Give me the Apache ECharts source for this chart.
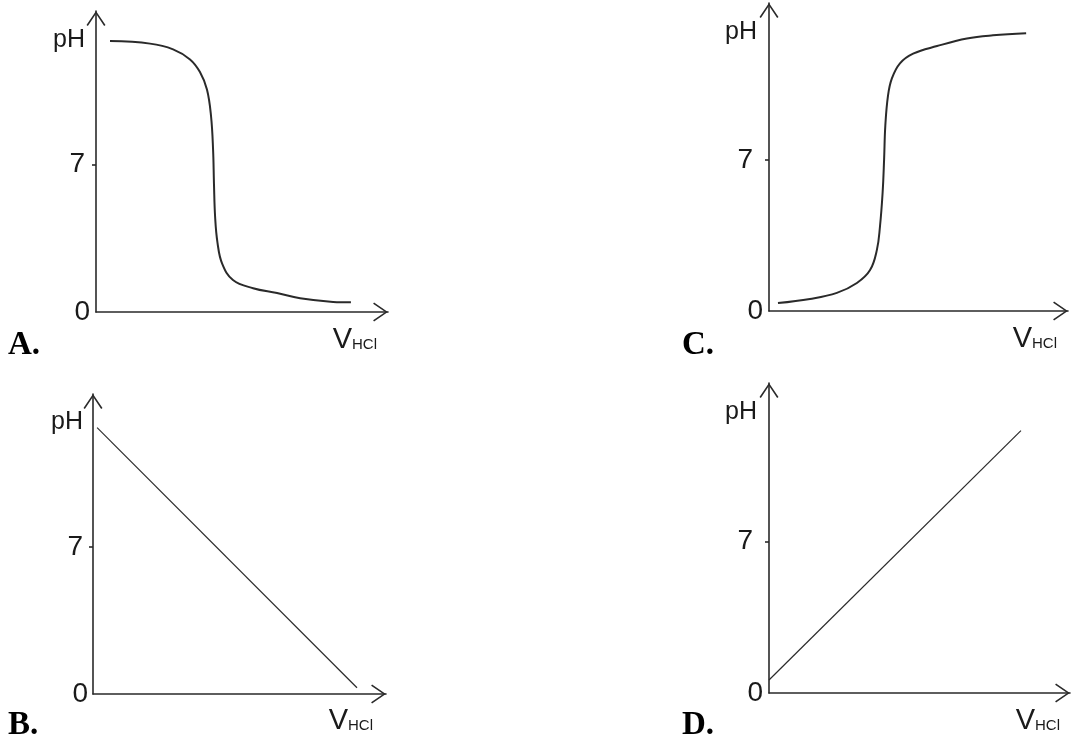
<!DOCTYPE html>
<html>
<head>
<meta charset="utf-8">
<title>pH - VHCl</title>
<script src="https://cdn.jsdelivr.net/npm/echarts@6/dist/echarts.min.js"></script>
<style>
  html, body { margin: 0; padding: 0; background: #fff; }
  #main { width: 1071px; height: 740px; }
</style>
</head>
<body>
<div id="main"></div>
<script>
// 数据 (x: VHCl 轴长度的百分比, y: pH)
var panelNames = ['A.', 'B.', 'C.', 'D.'];
var yLabelValues = [0, 7];
var yTickValues = [7];

var curveAx = [4.8, 18.5, 26.4, 32.2, 35.6, 38.0, 39.4, 40.1, 40.4, 40.8, 41.6, 43.2, 46.9, 53.8, 62.0, 69.9, 81.2, 87.3];
var curveAy = [12.87, 12.75, 12.48, 12.0, 11.4, 10.57, 9.3, 7.7, 6.1, 4.5, 3.3, 2.3, 1.52, 1.13, 0.9, 0.65, 0.48, 0.46];

var lineBx = [1.4, 90.1];
var lineBy = [12.7, 0.3];

var curveCx = [3.0, 13.7, 22.7, 29.4, 33.8, 36.1, 37.1, 38.0, 38.5, 38.9, 39.8, 41.1, 43.8, 48.2, 56.2, 66.2, 74.9, 86.0];
var curveCy = [0.37, 0.56, 0.84, 1.3, 1.9, 2.85, 3.9, 5.5, 7.05, 8.6, 10.0, 10.8, 11.5, 11.95, 12.3, 12.65, 12.8, 12.9];

var lineDx = [0, 83.7];
var lineDy = [0.6, 12.1];

function zip(xs, ys) {
  return xs.map(function (x, i) { return [x, ys[i]]; });
}

var textColor = '#1a1a1a';
var lineColor = '#2a2a2a';
var sans = 'Liberation Sans, Arial, sans-serif';
// 箭头 (开口的 V 形)
var arrow = 'path://M9,0 L18,13.1 L16.7,14 L9,2.5 L1.3,14 L0,13.1 Z';

// 每个小图的位置
var panels = [
  { grid: { left: 96, top: 11, width: 292, height: 301 }, title: [8, 329], pad7: 5, pad0: 6, phGap: -29, phPad: 11, vGap: -11, vPad: 13 },
  { grid: { left: 93, top: 394, width: 293, height: 300 }, title: [8, 709], pad7: 4, pad0: 5, phGap: -28, phPad: 10, vGap: -13, vPad: 12 },
  { grid: { left: 769, top: 3, width: 299, height: 308 }, title: [682, 329], pad7: 10, pad0: 6, phGap: -29, phPad: 12, vGap: -11, vPad: 13 },
  { grid: { left: 769, top: 383, width: 301, height: 310 }, title: [682, 709], pad7: 10, pad0: 6, phGap: -29, phPad: 12, vGap: -10, vPad: 13 }
];

var seriesData = [zip(curveAx, curveAy), zip(lineBx, lineBy), zip(curveCx, curveCy), zip(lineDx, lineDy)];
var smoothFlags = [0.4, false, 0.4, false];
var lineWidths = [2, 1.2, 2, 1.2];

var axisLineStyle = {
  show: true,
  symbol: ['none', arrow],
  symbolSize: [19, 15],
  symbolOffset: [0, -7.5],
  lineStyle: { color: lineColor, width: 1.6 }
};

var option = {
  backgroundColor: '#fff',
  animation: false,
  title: [],
  grid: [],
  xAxis: [],
  yAxis: [],
  series: []
};

panels.forEach(function (p, i) {
  option.title.push({
    text: panelNames[i],
    left: p.title[0],
    top: p.title[1],
    padding: 0,
    textStyle: { fontFamily: 'Liberation Serif, Times New Roman, serif', fontWeight: 'bold', fontSize: 33, color: '#000' }
  });
  option.grid.push(p.grid);
  option.xAxis.push({
    type: 'value',
    gridIndex: i,
    min: 0,
    max: 100,
    name: '{v|V}{h|HCl}',
    nameLocation: 'end',
    nameGap: p.vGap,
    nameTextStyle: {
      align: 'right',
      verticalAlign: 'top',
      padding: [p.vPad, 0, 0, 0],
      rich: {
        v: { fontFamily: sans, fontSize: 29, lineHeight: 29, color: textColor },
        h: { fontFamily: sans, fontSize: 15, lineHeight: 15, color: textColor, verticalAlign: 'bottom', padding: [0, 0, 2, 0] }
      }
    },
    axisLine: axisLineStyle,
    axisTick: { show: false },
    axisLabel: { show: false },
    splitLine: { show: false }
  });
  option.yAxis.push({
    type: 'value',
    gridIndex: i,
    min: 0,
    max: 14.3,
    interval: 7,
    name: 'pH',
    nameLocation: 'end',
    nameGap: p.phGap,
    nameTextStyle: {
      fontFamily: sans, fontSize: 25, color: textColor,
      align: 'right', verticalAlign: 'middle',
      padding: [0, p.phPad, 0, 0]
    },
    axisLine: axisLineStyle,
    axisTick: { show: true, customValues: yTickValues, length: 4, lineStyle: { color: lineColor, width: 1.6 } },
    axisLabel: {
      customValues: yLabelValues,
      margin: 6,
      formatter: function (v) { return v === 7 ? '{s|7}' : '{z|0}'; },
      rich: {
        s: { fontFamily: sans, fontSize: 28, color: textColor, padding: [0, p.pad7, 0, 0] },
        z: { fontFamily: sans, fontSize: 28, color: textColor, padding: [0, p.pad0 - 6, 0, 0] }
      }
    },
    splitLine: { show: false }
  });
  option.series.push({
    type: 'line',
    xAxisIndex: i,
    yAxisIndex: i,
    data: seriesData[i],
    smooth: smoothFlags[i],
    showSymbol: false,
    symbol: 'none',
    lineStyle: { color: lineColor, width: lineWidths[i] },
    silent: true
  });
});

var myChart = echarts.init(document.getElementById('main'));
myChart.setOption(option);
</script>
</body>
</html>
